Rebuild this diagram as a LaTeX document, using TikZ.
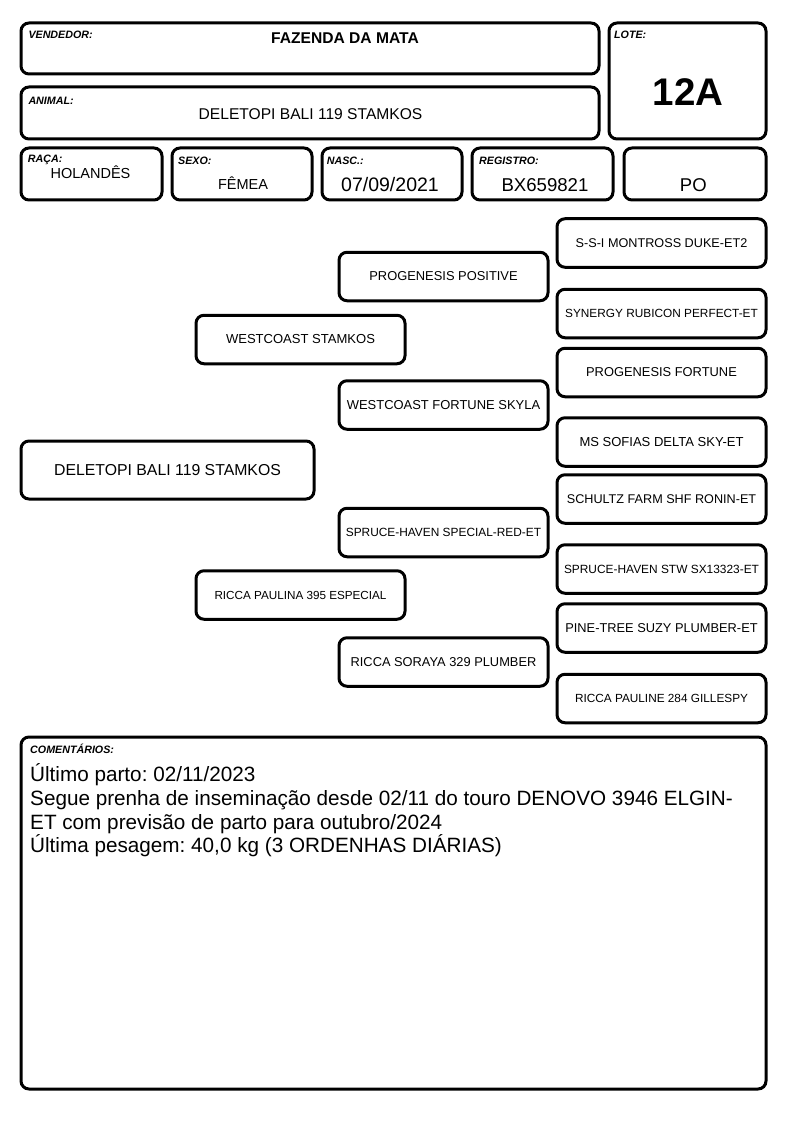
\documentclass[tikz,border=0pt]{standalone}
\usepackage{fontspec}
\setmainfont{Liberation Sans}
\usepackage{graphicx}
\frenchspacing
\newcommand\fitto[2]{\resizebox{#1pt}{!}{#2}}
\tikzset{
  frame/.style={draw, line width=3pt, rounded corners=8pt, inner sep=0pt},
  pbox/.style={frame, minimum width=209pt, minimum height=48.5pt},
  lbl/.style={anchor=base west, inner sep=0pt, font=\fontsize{10.7}{12}\selectfont\bfseries\itshape},
  val/.style={anchor=base, inner sep=0pt},
  cline/.style={anchor=base west, inner sep=0pt, font=\fontsize{20.7}{24}\selectfont},
}
\begin{document}
\frenchspacing
\begin{tikzpicture}[x=1pt, y=-1pt]
\useasboundingbox (0,0) rectangle (794,1123);
\fill[white] (0,0) rectangle (794,1123);

% header boxes
\node[frame, minimum width=578pt, minimum height=51pt] (vend) at (310,48.5) {};
\node[frame, minimum width=578pt, minimum height=52pt] (anim) at (310,113) {};
\node[frame, minimum width=157pt, minimum height=116pt] (lote) at (687.5,81) {};
\node[frame, minimum width=141pt, minimum height=52pt] (raca) at (91.5,174) {};
\node[frame, minimum width=140pt, minimum height=52pt] (sexo) at (242,174) {};
\node[frame, minimum width=140pt, minimum height=52pt] (nasc) at (392,174) {};
\node[frame, minimum width=141pt, minimum height=52pt] (reg) at (542.5,174) {};
\node[frame, minimum width=142pt, minimum height=52pt] (po) at (695,174) {};
\node[frame, minimum width=745pt, minimum height=352pt] (comm) at (393.5,913) {};

% labels
\node[lbl] (lvend) at (28.3,39) {VENDEDOR:};
\node[lbl] (lanim) at (28.3,105) {ANIMAL:};
\node[lbl] (llote) at (614,39) {LOTE:};
\node[lbl] (lraca) at (27.7,162.3) {RAÇA:};
\node[lbl] (lsexo) at (178,165) {SEXO:};
\node[lbl] (lnasc) at (326.7,165) {NASC.:};
\node[lbl] (lreg) at (479,165) {REGISTRO:};
\node[lbl] (lcomm) at (30,753.3) {COMENTÁRIOS:};

% values
\node[val, font=\fontsize{15.6}{18}\selectfont\bfseries] (tvend) at (345,43.3) {FAZENDA DA MATA};
\node[val, font=\fontsize{15.6}{18}\selectfont] (tanim) at (310.5,120) {DELETOPI BALI 119 STAMKOS};
\node[val, font=\fontsize{38.5}{44}\selectfont\bfseries] (tlote) at (688,105.7) {12A};
\node[val, font=\fontsize{14.5}{17}\selectfont] (traca) at (90.5,178.3) {HOLANDÊS};
\node[val, font=\fontsize{14.5}{17}\selectfont] (tsexo) at (243,190) {FÊMEA};
\node[val, font=\fontsize{19.5}{22}\selectfont] (tnasc) at (390,191.7) {07/09/2021};
\node[val, font=\fontsize{18.6}{22}\selectfont] (treg) at (545,191.7) {BX659821};
\node[val, font=\fontsize{18.5}{22}\selectfont] (tpo) at (693.3,191.7) {PO};

% comments
\node[cline] (c1) at (30,781.7) {Último parto: 02/11/2023};
\node[cline] (c2) at (30,805.5) {Segue prenha de inseminação desde 02/11 do touro DENOVO 3946 ELGIN-};
\node[cline] (c3) at (30,829) {ET com previsão de parto para outubro/2024};
\node[cline] (c4) at (30,852.7) {Última pesagem: 40,0 kg (3 ORDENHAS DIÁRIAS)};

% pedigree
\node[frame, minimum width=293pt, minimum height=58pt] (subj) at (167.5,470) {\fitto{226.7}{DELETOPI BALI 119 STAMKOS}};
\node[pbox] (sire) at (300.5,339.5) {\fitto{149}{WESTCOAST STAMKOS}};
\node[pbox] (dam) at (300.5,595) {\fitto{172}{RICCA PAULINA 395 ESPECIAL}};
\node[pbox] (ss) at (443.5,276.5) {\fitto{148.3}{PROGENESIS POSITIVE}};
\node[pbox] (sd) at (443.5,405) {\fitto{193.3}{WESTCOAST FORTUNE SKYLA}};
\node[pbox] (ds) at (443.5,532.5) {\fitto{195.3}{SPRUCE-HAVEN SPECIAL-RED-ET}};
\node[pbox] (dd) at (443.5,662) {\fitto{185.7}{RICCA SORAYA 329 PLUMBER}};
\node[pbox] (sss) at (661.5,243) {\fitto{171.7}{S-S-I MONTROSS DUKE-ET2}};
\node[pbox] (ssd) at (661.5,313.5) {\fitto{192.7}{SYNERGY RUBICON PERFECT-ET}};
\node[pbox] (sds) at (661.5,372.5) {\fitto{150.7}{PROGENESIS FORTUNE}};
\node[pbox] (sdd) at (661.5,442) {\fitto{164}{MS SOFIAS DELTA SKY-ET}};
\node[pbox] (dss) at (661.5,499) {\fitto{189.3}{SCHULTZ FARM SHF RONIN-ET}};
\node[pbox] (dsd) at (661.5,569) {\fitto{195}{SPRUCE-HAVEN STW SX13323-ET}};
\node[pbox] (dds) at (661.5,628) {\fitto{192.3}{PINE-TREE SUZY PLUMBER-ET}};
\node[pbox] (ddd) at (661.5,698.5) {\fitto{173}{RICCA PAULINE 284 GILLESPY}};
\end{tikzpicture}
\end{document}
